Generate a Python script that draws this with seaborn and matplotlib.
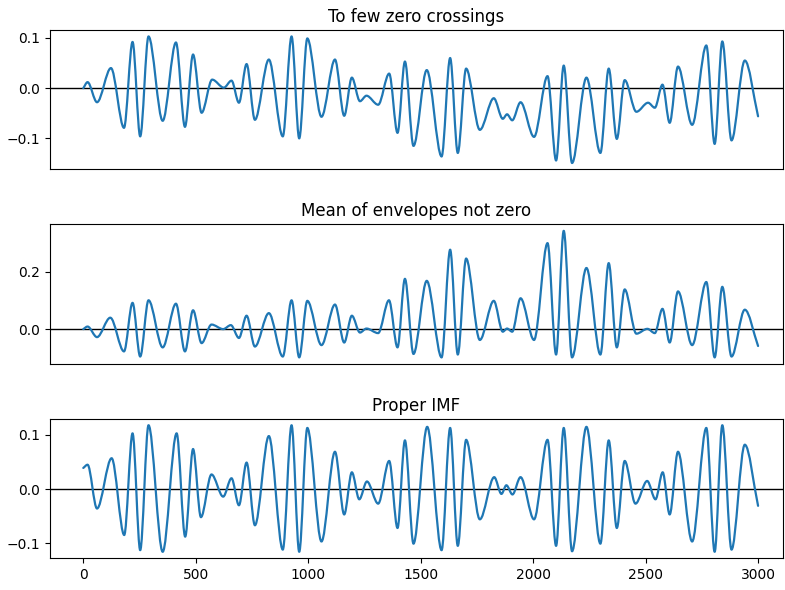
import numpy as np
import matplotlib
matplotlib.use("Agg")
import matplotlib.pyplot as plt
from matplotlib.path import Path
from matplotlib.patches import PathPatch
import seaborn as sns

# Local extrema (sample index, amplitude) of each signal, plus its first and last sample
crossings_x = [0, 19, 61, 123, 181, 219, 253, 290, 353, 412, 452, 488, 526, 573, 625, 659, 692, 726, 763, 825,
               887, 926, 960, 996, 1059, 1119, 1160, 1194, 1230, 1259, 1311, 1360, 1397, 1430, 1468, 1527, 1593, 1631, 1665, 1702,
               1763, 1825, 1865, 1884, 1907, 1944, 2004, 2064, 2102, 2136, 2173, 2237, 2299, 2336, 2372, 2407, 2459, 2511, 2541, 2575,
               2607, 2644, 2707, 2770, 2807, 2841, 2882, 2941, 3000]
crossings_y = [0.0, 0.012, -0.028, 0.040, -0.079, 0.092, -0.096, 0.103, -0.065, 0.091,
               -0.077, 0.067, -0.049, 0.017, 0.001, 0.015, -0.029, 0.048, -0.063, 0.057,
               -0.096, 0.103, -0.100, 0.099, -0.057, 0.057, -0.055, 0.021, -0.026, -0.015,
               -0.033, 0.029, -0.089, 0.053, -0.115, 0.036, -0.136, 0.060, -0.129, 0.039,
               -0.083, -0.020, -0.061, -0.052, -0.064, -0.028, -0.097, 0.024, -0.144, 0.045,
               -0.149, 0.021, -0.129, 0.039, -0.101, 0.016, -0.047, -0.029, -0.039, 0.007,
               -0.069, 0.043, -0.073, 0.085, -0.111, 0.093, -0.104, 0.055, -0.056]

envelope_x = [0, 19, 61, 120, 181, 219, 253, 290, 353, 412, 452, 488, 526, 570, 622, 656, 692, 726, 763, 825,
              887, 926, 960, 996, 1059, 1119, 1160, 1194, 1230, 1259, 1311, 1359, 1397, 1430, 1468, 1527, 1593, 1631, 1665, 1702,
              1763, 1825, 1865, 1884, 1907, 1944, 2004, 2064, 2102, 2136, 2173, 2237, 2299, 2336, 2372, 2407, 2459, 2508, 2541, 2575,
              2607, 2644, 2707, 2770, 2807, 2841, 2882, 2941, 3000]
envelope_y = [0.0, 0.009, -0.028, 0.040, -0.078, 0.092, -0.096, 0.101, -0.064, 0.089,
              -0.078, 0.066, -0.049, 0.016, 0.0, 0.014, -0.031, 0.047, -0.061, 0.056,
              -0.096, 0.101, -0.099, 0.099, -0.056, 0.086, -0.047, 0.047, -0.012, 0.002,
              -0.014, 0.101, -0.064, 0.176, -0.087, 0.169, -0.099, 0.278, -0.089, 0.247,
              -0.038, 0.099, -0.009, 0.002, -0.009, 0.108, -0.038, 0.301, -0.089, 0.344,
              -0.099, 0.214, -0.089, 0.231, -0.064, 0.139, -0.016, 0.001, -0.014, 0.071,
              -0.047, 0.132, -0.056, 0.165, -0.099, 0.148, -0.096, 0.068, -0.059]

imf_x = [0, 19, 61, 126, 182, 219, 253, 290, 353, 415, 453, 488, 523, 570, 622, 659, 692, 726, 763, 825,
         887, 926, 960, 996, 1059, 1119, 1160, 1194, 1227, 1261, 1311, 1360, 1397, 1430, 1468, 1529, 1593, 1631, 1665, 1702,
         1763, 1827, 1859, 1881, 1908, 1944, 2004, 2064, 2102, 2136, 2173, 2237, 2299, 2336, 2372, 2407, 2455, 2507, 2544, 2576,
         2607, 2644, 2707, 2770, 2807, 2841, 2882, 2941, 3000]
imf_y = [0.039, 0.045, -0.036, 0.057, -0.085, 0.103, -0.113, 0.118, -0.116, 0.103,
         -0.088, 0.074, -0.052, 0.027, -0.014, 0.020, -0.030, 0.049, -0.067, 0.098,
         -0.112, 0.118, -0.116, 0.113, -0.097, 0.069, -0.047, 0.031, -0.019, 0.014,
         -0.027, 0.052, -0.072, 0.090, -0.101, 0.115, -0.113, 0.113, -0.105, 0.091,
         -0.056, 0.022, -0.009, 0.007, -0.010, 0.022, -0.056, 0.091, -0.105, 0.113,
         -0.115, 0.115, -0.101, 0.090, -0.072, 0.052, -0.027, 0.015, -0.019, 0.031,
         -0.047, 0.069, -0.097, 0.113, -0.116, 0.118, -0.112, 0.082, -0.031]

titles = ["To few zero crossings", "Mean of envelopes not zero", "Proper IMF"]
y_ticks = [[-0.1, 0.0, 0.1], [0.0, 0.2], [-0.1, 0.0, 0.1]]
x_ticks = [0, 500, 1000, 1500, 2000, 2500, 3000]

sns.set_theme(style="ticks", rc={
    "axes.edgecolor": "black",
    "axes.linewidth": 0.8,
    "xtick.color": "black",
    "ytick.color": "black",
    "text.color": "black",
    "axes.labelcolor": "black",
    "xtick.major.size": 3.5,
    "ytick.major.size": 3.5,
    "xtick.major.width": 0.8,
    "ytick.major.width": 0.8,
    "font.size": 10,
    "xtick.labelsize": 10,
    "ytick.labelsize": 10,
    "axes.titlesize": 12,
})
plt.rcParams["font.family"] = ["DejaVu Sans"]


def smooth_through_extrema(ax, line):
    """Replace a straight polyline through extrema with Bezier arcs that
    have flat tangents at every extremum (endpoints keep a straight lead)."""
    pts = line.get_xydata()
    n = len(pts)
    verts = [tuple(pts[0])]
    codes = [Path.MOVETO]
    for i in range(n - 1):
        (x0, y0), (x1, y1) = pts[i], pts[i + 1]
        d = (x1 - x0) / 3.0
        c1 = (x0 + d, y0) if i > 0 else (x0 + d, y0 + (y1 - y0) / 3.0)
        c2 = (x1 - d, y1) if i < n - 2 else (x1 - d, y1 - (y1 - y0) / 3.0)
        verts += [c1, c2, (x1, y1)]
        codes += [Path.CURVE4] * 3
    patch = PathPatch(Path(verts, codes), facecolor="none",
                      edgecolor=line.get_color(), linewidth=line.get_linewidth(),
                      capstyle="round", joinstyle="round", zorder=line.get_zorder())
    ax.add_patch(patch)
    line.remove()


fig, axes = plt.subplots(3, 1, figsize=(7.85, 5.9), dpi=100)
fig.subplots_adjust(left=0.0637, right=0.9975, top=0.949, bottom=0.054, hspace=0.396)

series = [(crossings_x, crossings_y), (envelope_x, envelope_y), (imf_x, imf_y)]
for i, (ax, (xs, ys)) in enumerate(zip(axes, series)):
    sns.lineplot(x=xs, y=ys, ax=ax, color="#1f77b4", linewidth=1.6)
    smooth_through_extrema(ax, ax.lines[-1])
    ax.axhline(0, color="black", linewidth=1.0, zorder=1)
    ax.set_xlim(-148, 3111)
    lo, hi = min(ys), max(ys)
    pad = 0.05 * (hi - lo)
    ax.set_ylim(lo - pad, hi + pad)
    ax.set_yticks(y_ticks[i])
    ax.set_title(titles[i])
    for s in ax.spines.values():
        s.set_visible(True)
    if i < 2:
        ax.set_xticks([])
    else:
        ax.set_xticks(x_ticks)

fig.savefig("out.png", dpi=100)
